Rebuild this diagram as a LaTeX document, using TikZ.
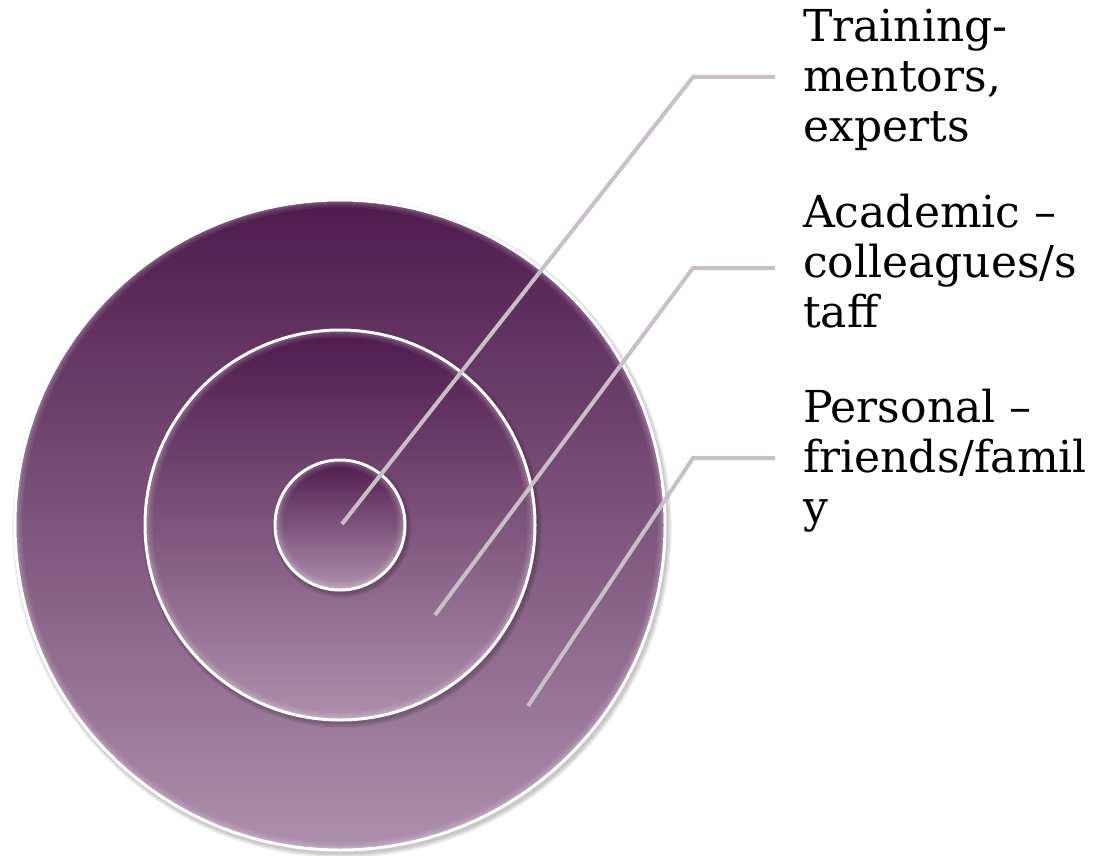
\documentclass[tikz,border=0pt]{standalone}
\usepackage{fontspec}
\setmainfont{DejaVu Serif}
\usetikzlibrary{calc}
\definecolor{plumdark}{HTML}{4E1A4C}
\definecolor{plumlight}{HTML}{AD90AD}
\definecolor{leader}{HTML}{C8BFC9}
\tikzset{
  ring/.style={shading=axis, top color=plumdark, bottom color=plumlight,
               draw=white, line width=3pt},
  softshadow/.style={fill=black, fill opacity=0.06, draw=none},
  rimglow/.style={draw=white, line width=2pt},
  leaderline/.style={draw=leader, line width=4pt},
  label/.style={anchor=base west, align=left, inner sep=0pt,
                font=\fontsize{44}{50}\selectfont, text=black}
}
\begin{document}
\begin{tikzpicture}[x=1pt, y=-1pt]
  \useasboundingbox (0,0) rectangle (1097,856);
  \coordinate (c) at (340,525);

  % three concentric discs, each with a soft drop shadow and a faint inner rim
  \foreach \r in {325,195,65}{
    \foreach \s in {1,2,3,4}{
      \fill[softshadow] ($(c)+(2,3)$) circle[radius=\r+\s*1.2];
    }
    \path[ring] (c) circle[radius=\r];
    \draw[rimglow, opacity=0.22] (c) circle[radius=\r-2.5];
    \draw[rimglow, opacity=0.12] (c) circle[radius=\r-4.5];
    \draw[rimglow, opacity=0.06] (c) circle[radius=\r-6.5];
  }

  % anchor points inside the rings
  \coordinate (p1) at (342,524);
  \coordinate (p2) at (435,615);
  \coordinate (p3) at (528,706);

  % labels (placed by the baseline of their last line)
  \node[label] (l1) at (803,142) {Training-\\mentors,\\experts};
  \node[label] (l2) at (803,327) {Academic –\\colleagues/s\\taff};
  \node[label] (l3) at (803,522) {Personal –\\friends/famil\\y};

  \coordinate (b1) at (693,77);  \coordinate (e1) at (775,77);
  \coordinate (b2) at (693,268); \coordinate (e2) at (775,268);
  \coordinate (b3) at (693,458); \coordinate (e3) at (775,458);

  \draw[leaderline] (p1) -- (b1) -- (e1);
  \draw[leaderline] (p2) -- (b2) -- (e2);
  \draw[leaderline] (p3) -- (b3) -- (e3);
\end{tikzpicture}
\end{document}
